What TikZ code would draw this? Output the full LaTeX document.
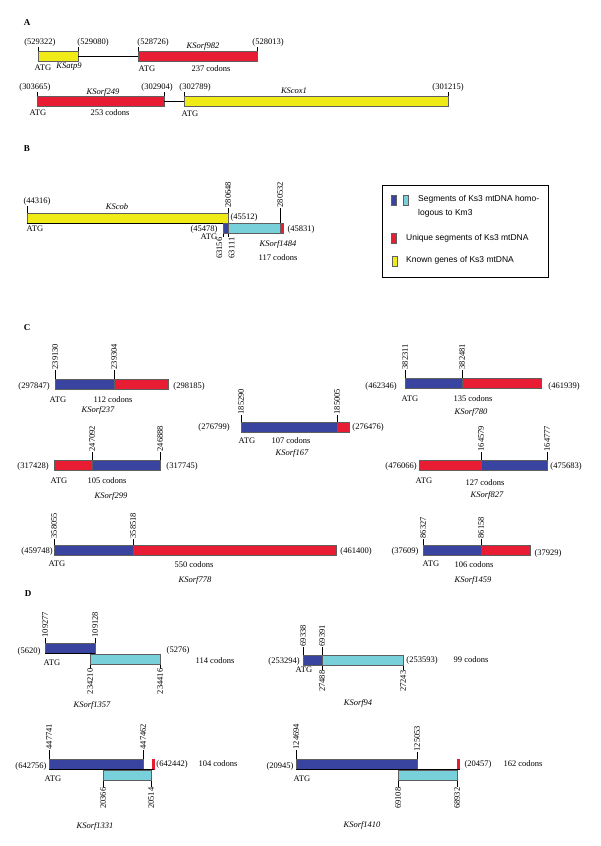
\documentclass[tikz,border=0pt]{standalone}
\usepackage{fontspec}
\setmainfont{Liberation Serif}
\setsansfont{Liberation Sans}
\usetikzlibrary{positioning}
\definecolor{kyellow}{RGB}{240,234,22}
\definecolor{kred}{RGB}{232,28,50}
\definecolor{kblue}{RGB}{56,68,160}
\definecolor{kcyan}{RGB}{120,208,218}
\definecolor{segline}{RGB}{95,95,95}

\begin{document}
\begin{tikzpicture}[x=1pt, y=-1pt,
    every node/.style={font=\fontsize{8.5}{10}\selectfont, inner sep=1pt},
    seg/.style={draw=segline, line width=0.5pt, inner sep=0pt, outer sep=0pt, minimum height=10.5pt, anchor=north west},
    gname/.style={font=\fontsize{8.5}{10}\selectfont\itshape},
    panel/.style={font=\fontsize{9}{10}\selectfont\bfseries},
    vnum/.style={rotate=90, inner sep=0.5pt},
    key/.style={font=\fontsize{8.5}{10}\selectfont\sffamily, anchor=west},
    swatch/.style={draw=segline, inner sep=0pt, outer sep=0pt, minimum width=5pt, minimum height=10pt, anchor=north west},
    tickline/.style={line width=0.4pt},
    dnaline/.style={line width=1pt}]
    \useasboundingbox (0,0) rectangle (600,846);

    % Panel A
    \node[panel] (pA) at (27,23) {A};
    % first row
    \node[seg, fill=kyellow, minimum width=40pt] (atp9) at (38,51) {};
    \node[seg, fill=kred, minimum width=119pt] (orf982) at (138,51) {};
    \draw[dnaline] (atp9.east) -- (orf982.west);
    \node (a1) at (40,42) {(529322)};
    \node (a2) at (93,42) {(529080)};
    \node (a3) at (153,42) {(528726)};
    \node (a4) at (268,42) {(528013)};
    \draw[tickline] (atp9.north west) -- (atp9.north west |- a1.south);
    \draw[tickline] (atp9.north east) -- (atp9.north east |- a2.south);
    \draw[tickline] (orf982.north west) -- (orf982.north west |- a3.south);
    \draw[tickline] (orf982.north east) -- (orf982.north east |- a4.south);
    \node[gname] (n982) at (203,46) {KSorf982};
    \node (atgA1) at (43,68) {ATG};
    \node[gname] (natp9) at (69,67) {KSatp9};
    \node (atgA2) at (147,69) {ATG};
    \node (cod982) at (211,69) {237 codons};
    % second row
    \node[seg, fill=kred, minimum width=127pt] (orf249) at (37,96) {};
    \node[seg, fill=kyellow, minimum width=264pt] (cox1) at (184,96) {};
    \draw[dnaline] (orf249.east) -- (cox1.west);
    \node (a5) at (35,87) {(303665)};
    \node (a6) at (157,87) {(302904)};
    \node (a7) at (195,87) {(302789)};
    \node (a8) at (448,87) {(301215)};
    \draw[tickline] (orf249.north west) -- (orf249.north west |- a5.south);
    \draw[tickline] (orf249.north east) -- (orf249.north east |- a6.south);
    \draw[tickline] (cox1.north west) -- (cox1.north west |- a7.south);
    \draw[tickline] (cox1.north east) -- (cox1.north east |- a8.south);
    \node[gname] (n249) at (103,92) {KSorf249};
    \node[gname] (ncox1) at (294,91) {KScox1};
    \node (atgA3) at (38,113) {ATG};
    \node (cod249) at (110,113) {253 codons};
    \node (atgA4) at (190,114) {ATG};

    % Panel B
    \node[panel] (pB) at (27,149) {B};
    \node[seg, fill=kyellow, minimum width=201pt] (cob) at (27,213) {};
    \draw[dnaline] (cob.south west) -- (cob.south east);
    \node[seg, fill=kblue, minimum width=5pt] (b1484) at (223,223) {};
    \node[seg, fill=kcyan, minimum width=52pt] (c1484) at (228,223) {};
    \node[seg, fill=kred, minimum width=3pt] (r1484) at (280,223) {};
    \node (b1) at (37,201) {(44316)};
    \draw[tickline] (cob.north west) -- (cob.north west |- b1.south);
    \node[gname] (ncob) at (117,207) {KScob};
    \node (atgB1) at (35,229) {ATG};
    \node (b2) at (244,217) {(45512)};
    \node (b3) at (204,229) {(45478)};
    \node (atgB2) at (209,237) {ATG};
    \node (b4) at (301,229) {(45831)};
    \node[gname] (n1484) at (278,244) {KSorf1484};
    \node (cod1484) at (278,258) {117 codons};
    \node[vnum, anchor=west] (v280648) at (228,208) {280648};
    \node[vnum, anchor=west] (v280532) at (280,208) {280532};
    \node[vnum, anchor=south east] (v63156) at (223,237) {63156};
    \node[vnum, anchor=north east] (v63111) at (228,237) {63111};
    \draw[tickline] (cob.north east) -- (v280648.west);
    \draw[tickline] (c1484.north east) -- (v280532.west);
    \draw[tickline] (b1484.south west) -- (v63156.south east);
    \draw[tickline] (b1484.south east) -- (v63111.north east);

    % Legend
    \node[draw, line width=0.8pt, inner sep=0pt, minimum width=166pt, minimum height=92pt, anchor=north west] (legend) at (382,185) {};
    \node[swatch, fill=kblue] (swb) at (391,195) {};
    \node[swatch, fill=kcyan] (swc) at (403,195) {};
    \node[swatch, fill=kred] (swr) at (391,233) {};
    \node[swatch, fill=kyellow] (swy) at (392,256) {};
    \node[key] (k1) at (417,199) {Segments of Ks3 mtDNA homo-};
    \node[key] (k2) at (417,213) {logous to Km3};
    \node[key] (k3) at (405,238) {Unique segments of Ks3 mtDNA};
    \node[key] (k4) at (405,260) {Known genes of Ks3 mtDNA};

    % Panel C
    \node[panel] (pC) at (27,328) {C};
    % KSorf237
    \node[seg, fill=kblue, minimum width=59pt] (b237) at (55,379) {};
    \node[seg, fill=kred, minimum width=54pt] (r237) at (114,379) {};
    \node[vnum, anchor=west] (v239130) at (55,370) {239130};
    \node[vnum, anchor=west] (v239304) at (114,370) {239304};
    \draw[tickline] (b237.north west) -- (v239130.west);
    \draw[tickline] (r237.north west) -- (v239304.west);
    \node (c1) at (34,386) {(297847)};
    \node (c2) at (189,386) {(298185)};
    \node (atgC1) at (58,400) {ATG};
    \node (cod237) at (113,400) {112 codons};
    \node[gname] (n237) at (98,410) {KSorf237};
    % KSorf167
    \node[seg, fill=kblue, minimum width=96pt] (b167) at (241,422) {};
    \node[seg, fill=kred, minimum width=12pt] (r167) at (337,422) {};
    \node[vnum, anchor=west] (v185290) at (241,415) {185290};
    \node[vnum, anchor=west] (v185005) at (337,415) {185005};
    \draw[tickline] (b167.north west) -- (v185290.west);
    \draw[tickline] (r167.north west) -- (v185005.west);
    \node (c3) at (214,427) {(276799)};
    \node (c4) at (368,427) {(276476)};
    \node (atgC2) at (247,441) {ATG};
    \node (cod167) at (291,441) {107 codons};
    \node[gname] (n167) at (292,453) {KSorf167};
    % KSorf780
    \node[seg, fill=kblue, minimum width=57pt] (b780) at (405,378) {};
    \node[seg, fill=kred, minimum width=79pt] (r780) at (462,378) {};
    \node[vnum, anchor=west] (v382311) at (405,370) {382311};
    \node[vnum, anchor=west] (v382481) at (462,370) {382481};
    \draw[tickline] (b780.north west) -- (v382311.west);
    \draw[tickline] (r780.north west) -- (v382481.west);
    \node (c5) at (381,386) {(462346)};
    \node (c6) at (564,386) {(461939)};
    \node (atgC3) at (410,399) {ATG};
    \node (cod780) at (473,399) {135 codons};
    \node[gname] (n780) at (471,412) {KSorf780};
    % KSorf299
    \node[seg, fill=kred, minimum width=38pt] (r299) at (54,460) {};
    \node[seg, fill=kblue, minimum width=68pt] (b299) at (92,460) {};
    \node[vnum, anchor=west] (v247092) at (92,452) {247092};
    \node[vnum, anchor=west] (v246888) at (160,452) {246888};
    \draw[tickline] (b299.north west) -- (v247092.west);
    \draw[tickline] (b299.north east) -- (v246888.west);
    \node (c7) at (33,466) {(317428)};
    \node (c8) at (182,466) {(317745)};
    \node (atgC4) at (59,481) {ATG};
    \node (cod299) at (107,481) {105 codons};
    \node[gname] (n299) at (111,496) {KSorf299};
    % KSorf827
    \node[seg, fill=kred, minimum width=62pt] (r827) at (419,460) {};
    \node[seg, fill=kblue, minimum width=66pt] (b827) at (481,460) {};
    \node[vnum, anchor=west] (v164579) at (481,452) {164579};
    \node[vnum, anchor=west] (v164777) at (547,452) {164777};
    \draw[tickline] (b827.north west) -- (v164579.west);
    \draw[tickline] (b827.north east) -- (v164777.west);
    \node (c9) at (401,466) {(476066)};
    \node (c10) at (566,466) {(475683)};
    \node (atgC5) at (424,481) {ATG};
    \node (cod827) at (485,483) {127 codons};
    \node[gname] (n827) at (487,495) {KSorf827};
    % KSorf778
    \node[seg, fill=kblue, minimum width=79pt] (b778) at (54,545) {};
    \node[seg, fill=kred, minimum width=203pt] (r778) at (133,545) {};
    \node[vnum, anchor=west] (v358055) at (54,539) {358055};
    \node[vnum, anchor=west] (v358518) at (133,539) {358518};
    \draw[tickline] (b778.north west) -- (v358055.west);
    \draw[tickline] (r778.north west) -- (v358518.west);
    \node (c11) at (37,551) {(459748)};
    \node (c12) at (356,551) {(461400)};
    \node (atgC6) at (57,564) {ATG};
    \node (cod778) at (194,565) {550 codons};
    \node[gname] (n778) at (195,580) {KSorf778};
    % KSorf1459
    \node[seg, fill=kblue, minimum width=58pt] (b1459) at (423,545) {};
    \node[seg, fill=kred, minimum width=49pt] (r1459) at (481,545) {};
    \node[vnum, anchor=west] (v86327) at (423,539) {86327};
    \node[vnum, anchor=west] (v86158) at (481,539) {86158};
    \draw[tickline] (b1459.north west) -- (v86327.west);
    \draw[tickline] (r1459.north west) -- (v86158.west);
    \node (c13) at (405,551) {(37609)};
    \node (c14) at (548,553) {(37929)};
    \node (atgC7) at (431,564) {ATG};
    \node (cod1459) at (474,565) {106 codons};
    \node[gname] (n1459) at (473,580) {KSorf1459};

    % Panel D
    \node[panel] (pD) at (28,594) {D};
    % KSorf1357
    \node[seg, fill=kblue, minimum width=50pt] (b1357) at (45,643) {};
    \node[seg, fill=kcyan, minimum width=70pt] (c1357) at (90,654) {};
    \draw[dnaline] (b1357.south west) -- (b1357.south east);
    \node[vnum, anchor=west] (v109277) at (45,638) {109277};
    \node[vnum, anchor=west] (v109128) at (95,638) {109128};
    \node[vnum, anchor=east] (v234210) at (90,668) {234210};
    \node[vnum, anchor=east] (v234416) at (160,668) {234416};
    \draw[tickline] (b1357.north west) -- (v109277.west);
    \draw[tickline] (b1357.north east) -- (v109128.west);
    \draw[tickline] (c1357.south west) -- (v234210.east);
    \draw[tickline] (c1357.south east) -- (v234416.east);
    \node (d1) at (29,651) {(5620)};
    \node (d2) at (178,650) {(5276)};
    \node (atgD1) at (52,663) {ATG};
    \node (cod1357) at (215,661) {114 codons};
    \node[gname] (n1357) at (92,705) {KSorf1357};
    % KSorf94
    \node[seg, fill=kblue, minimum width=19pt] (b94) at (303,655) {};
    \node[seg, fill=kcyan, minimum width=81pt] (c94) at (322,655) {};
    \node[vnum, anchor=west] (v69338) at (303,647) {69338};
    \node[vnum, anchor=west] (v69391) at (322,647) {69391};
    \node[vnum, anchor=east] (v27488) at (322,670) {27488};
    \node[vnum, anchor=east] (v27243) at (403,670) {27243};
    \draw[tickline] (b94.north west) -- (v69338.west);
    \draw[tickline] (c94.north west) -- (v69391.west);
    \draw[tickline] (c94.south west) -- (v27488.east);
    \draw[tickline] (c94.south east) -- (v27243.east);
    \node (d3) at (284,661) {(253294)};
    \node (d4) at (422,660) {(253593)};
    \node (atgD2) at (304,670) {ATG};
    \node (cod94) at (471,660) {99 codons};
    \node[gname] (n94) at (358,703) {KSorf94};
    % KSorf1331
    \node[seg, fill=kblue, minimum width=94pt] (b1331) at (49,759) {};
    \node[seg, fill=kcyan, minimum width=48pt] (c1331) at (103,770) {};
    \node[seg, draw=kred, fill=kred, minimum width=2pt] (r1331) at (152,759) {};
    \draw[dnaline] (b1331.south west) -- (r1331.south east);
    \node[vnum, anchor=west] (v447741) at (49,750) {447741};
    \node[vnum, anchor=west] (v447462) at (143,750) {447462};
    \node[vnum, anchor=east] (v20366) at (103,787) {20366};
    \node[vnum, anchor=east] (v20514) at (151,787) {20514};
    \draw[tickline] (b1331.north west) -- (v447741.west);
    \draw[tickline] (b1331.north east) -- (v447462.west);
    \draw[tickline] (c1331.south west) -- (v20366.east);
    \draw[tickline] (c1331.south east) -- (v20514.east);
    \node (d5) at (31,766) {(642756)};
    \node (d6) at (172,764) {(642442)};
    \node (atgD3) at (53,779) {ATG};
    \node (cod1331) at (218,764) {104 codons};
    \node[gname] (n1331) at (95,826) {KSorf1331};
    % KSorf1410
    \node[seg, fill=kblue, minimum width=121pt] (b1410) at (296,759) {};
    \node[seg, fill=kcyan, minimum width=59pt] (c1410) at (398,770) {};
    \node[seg, draw=kred, fill=kred, minimum width=2.5pt] (r1410) at (457,759) {};
    \draw[dnaline] (b1410.south west) -- (r1410.south east);
    \node[vnum, anchor=west] (v124694) at (296,750) {124694};
    \node[vnum, anchor=west] (v125053) at (417,752) {125053};
    \node[vnum, anchor=east] (v69108) at (398,787) {69108};
    \node[vnum, anchor=east] (v68932) at (457,787) {68932};
    \draw[tickline] (b1410.north west) -- (v124694.west);
    \draw[tickline] (b1410.north east) -- (v125053.west);
    \draw[tickline] (c1410.south west) -- (v69108.east);
    \draw[tickline] (c1410.south east) -- (v68932.east);
    \node (d7) at (280,766) {(20945)};
    \node (d8) at (478,764) {(20457)};
    \node (atgD4) at (302,779) {ATG};
    \node (cod1410) at (523,764) {162 codons};
    \node[gname] (n1410) at (362,825) {KSorf1410};
\end{tikzpicture}
\end{document}
